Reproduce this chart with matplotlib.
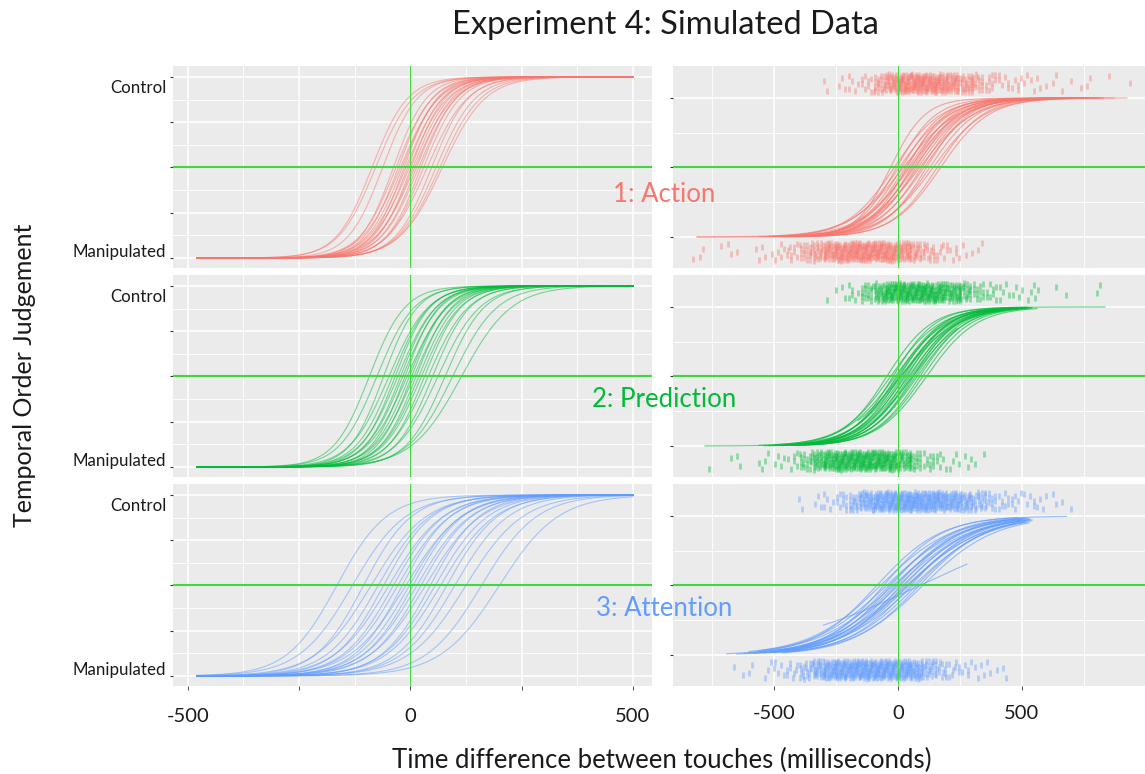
import numpy as np
import matplotlib
matplotlib.use("Agg")
import matplotlib.pyplot as plt

# ---------------- data ----------------
CONDITIONS = ["1: Action", "2: Prediction", "3: Attention"]
COLORS = ["#F8766D", "#00BA38", "#619CFF"]
Y_LABELS = ["Control", "Manipulated"]
LEFT_XTICKS = [-500, -250, 0, 250, 500]
LEFT_XTICKLABELS = ["-500", "", "0", "", "500"]
RIGHT_XTICKS = [-500, 0, 500]
RIGHT_XTICKLABELS = ["-500", "0", "500"]

# left column: simulated psychometric curves (PSE, slope in ms), drawn -480..500
LEFT_XRANGE = [-480, 500]
ACT_L_PSE = [-86, -78, -62, -38, -32, -27, -22, -18, -14, -10, -6, -2, 2, 6, 10, 14, 19, 24, 30, 38, 48, 58, 66, 72]
ACT_L_SD = [40, 42, 39, 37, 41, 38, 43, 40, 37, 42, 39, 43, 38, 41, 44, 40, 42, 39, 41, 45, 41, 44, 46, 48]
PRED_L_PSE = [-92, -75, -60, -48, -40, -34, -28, -22, -17, -12, -7, -2, 3, 8, 13, 19, 25, 32, 40, 50, 62, 78, 95, 115]
PRED_L_SD = [40, 42, 38, 44, 41, 39, 43, 40, 42, 38, 45, 41, 39, 44, 40, 42, 43, 41, 45, 42, 47, 44, 50, 56]
ATT_L_PSE = [-165, -130, -105, -88, -72, -60, -48, -38, -28, -18, -10, -2, 6, 15, 24, 34, 45, 56, 68, 82, 100, 125, 160, 200]
ATT_L_SD = [56, 60, 54, 62, 58, 55, 61, 57, 59, 54, 63, 58, 56, 60, 57, 62, 55, 59, 61, 57, 60, 64, 62, 66]

# right column: fitted curves per participant (PSE, slope, data range)
ACT_R_PSE = [-30, -15, -5, 5, 15, 22, 30, 36, 42, 48, 54, 60, 66, 72, 80, 88, 96, 105, 115, 128, 142, 158, 172]
ACT_R_SD = [70, 95, 80, 100, 85, 110, 90, 80, 95, 105, 85, 92, 100, 88, 96, 108, 90, 98, 86, 95, 104, 92, 97]
ACT_R_LO = [-810, -480, -420, -520, -380, -810, -450, -360, -540, -400, -470, -330, -500, -430, -390, -560, -350, -440, -410, -480, -370, -460, -420]
ACT_R_HI = [923, 640, 700, 580, 760, 820, 620, 690, 810, 560, 740, 660, 870, 600, 720, 780, 650, 700, 830, 620, 760, 690, 800]
PRED_R_PSE = [-45, -30, -20, -12, -5, 0, 6, 12, 18, 24, 30, 36, 42, 48, 55, 62, 70, 78, 88, 100, 115, 10, 60]
PRED_R_SD = [90, 100, 85, 105, 92, 96, 88, 102, 94, 90, 98, 86, 100, 92, 96, 89, 94, 98, 92, 96, 100, 115, 105]
PRED_R_LO = [-778, -500, -430, -560, -380, -470, -520, -410, -450, -360, -490, -400, -440, -540, -420, -380, -460, -400, -430, -350, -410, -160, -300]
PRED_R_HI = [835, 450, 520, 410, 480, 540, 430, 500, 460, 520, 440, 480, 510, 470, 530, 450, 500, 540, 480, 520, 560, 420, 238]
ATT_R_PSE = [-85, -70, -58, -46, -36, -28, -20, -12, -5, 2, 10, 18, 26, 34, 42, 52, 62, 74, 86, 100, 40, 88]
ATT_R_SD = [130, 145, 120, 150, 135, 125, 155, 140, 130, 150, 125, 145, 135, 155, 140, 130, 150, 140, 135, 145, 150, 300]
ATT_R_LO = [-690, -600, -650, -560, -620, -580, -540, -600, -520, -560, -500, -580, -540, -480, -520, -460, -500, -440, -470, -420, -420, -300]
ATT_R_HI = [680, 520, 480, 530, 500, 510, 490, 530, 470, 520, 500, 540, 490, 510, 530, 500, 520, 540, 510, 530, 485, 278]

# jittered trials: counts per 50 ms bin (first bin start given)
BIN_WIDTH = 50
ACT_CTRL_FROM = -300
ACT_CTRL_COUNTS = [2, 3, 5, 8, 20, 34, 45, 46, 44, 40, 34, 24, 16, 10, 6, 5, 4, 3, 2, 2, 1, 2, 1, 0, 1]
ACT_MANIP_FROM = -850
ACT_MANIP_COUNTS = [1, 2, 1, 2, 1, 2, 3, 5, 9, 16, 24, 34, 42, 46, 46, 45, 42, 34, 22, 14, 8, 5, 3, 2]
PRED_CTRL_FROM = -300
PRED_CTRL_COUNTS = [1, 3, 6, 16, 30, 42, 46, 46, 45, 40, 32, 20, 12, 8, 5, 4, 3, 2, 1, 1, 0, 0, 2]
PRED_MANIP_FROM = -800
PRED_MANIP_COUNTS = [1, 0, 1, 2, 1, 3, 4, 6, 14, 28, 38, 44, 46, 46, 45, 42, 30, 16, 10, 6, 4, 3, 2]
ATT_CTRL_FROM = -400
ATT_CTRL_COUNTS = [2, 3, 5, 10, 20, 32, 40, 45, 46, 46, 45, 42, 36, 28, 20, 12, 8, 6, 5, 4, 2, 2]
ATT_MANIP_FROM = -700
ATT_MANIP_COUNTS = [1, 1, 2, 3, 5, 8, 16, 28, 38, 42, 45, 46, 46, 45, 42, 34, 22, 13, 8, 5, 4, 3, 2]

LEFT_CURVES = [(ACT_L_PSE, ACT_L_SD), (PRED_L_PSE, PRED_L_SD), (ATT_L_PSE, ATT_L_SD)]
RIGHT_CURVES = [(ACT_R_PSE, ACT_R_SD, ACT_R_LO, ACT_R_HI),
                (PRED_R_PSE, PRED_R_SD, PRED_R_LO, PRED_R_HI),
                (ATT_R_PSE, ATT_R_SD, ATT_R_LO, ATT_R_HI)]
STRIPS = [((ACT_CTRL_FROM, ACT_CTRL_COUNTS), (ACT_MANIP_FROM, ACT_MANIP_COUNTS)),
          ((PRED_CTRL_FROM, PRED_CTRL_COUNTS), (PRED_MANIP_FROM, PRED_MANIP_COUNTS)),
          ((ATT_CTRL_FROM, ATT_CTRL_COUNTS), (ATT_MANIP_FROM, ATT_MANIP_COUNTS))]

# ---------------- figure ----------------
plt.rcParams['font.family'] = ['Lato', 'DejaVu Sans']
W, H = 1145, 774
fig = plt.figure(figsize=(W / 100, H / 100), dpi=100)

GREEN = "#3FD93F"
BG = "#EBEBEB"
TXT = "#1a1a1a"


def rect(x0, y0, x1, y1):
    return [x0 / W, 1 - y1 / H, (x1 - x0) / W, (y1 - y0) / H]


ROWS = [(66, 268), (275, 477), (484, 686)]
LEFT = (173, 652)
RIGHT = (673, 1145)


def logistic(x, pse, sd):
    return 1.0 / (1.0 + np.exp(-(np.asarray(x) - pse) / sd))


def style(ax, vgrid_major, vgrid_minor, hgrid_major, hgrid_minor):
    ax.set_facecolor(BG)
    for s in ax.spines.values():
        s.set_visible(False)
    for v in vgrid_minor:
        ax.axvline(v, color="white", lw=0.6, zorder=0.5)
    for v in vgrid_major:
        ax.axvline(v, color="white", lw=1.1, zorder=0.5)
    for h in hgrid_minor:
        ax.axhline(h, color="white", lw=0.6, zorder=0.5)
    for h in hgrid_major:
        ax.axhline(h, color="white", lw=1.1, zorder=0.5)


R1 = 0.7548776662466927
R2 = 0.5698402909980532

for r, (y0, y1) in enumerate(ROWS):
    color = COLORS[r]
    bottom = (r == 2)

    # ---- left panel ----
    axl = fig.add_axes(rect(LEFT[0], y0, LEFT[1], y1))
    axl.set_xlim(-533, 543)
    axl.set_ylim(-0.055, 1.06)
    style(axl, [-500, -250, 0, 250, 500], [-375, -125, 125, 375],
          [0, 0.25, 0.5, 0.75, 1], [0.125, 0.375, 0.625, 0.875])
    pses, sds = LEFT_CURVES[r]
    xs = np.linspace(LEFT_XRANGE[0], LEFT_XRANGE[1], 400)
    for p, s in zip(pses, sds):
        axl.plot(xs, logistic(xs, p, s), color=color, lw=0.8, alpha=0.5, zorder=2)
    axl.axvline(0, color=GREEN, lw=0.9, zorder=3)
    axl.axhline(0.5, color=GREEN, lw=1.5, zorder=3)
    axl.set_yticks([0, 0.25, 0.5, 0.75, 1])
    axl.set_yticklabels([])
    axl.tick_params(axis="y", length=2, width=0.8, color="#333333")
    axl.text(-548, 0.94, Y_LABELS[0], ha="right", va="center", fontsize=12.2, color=TXT)
    axl.text(-548, 0.035, Y_LABELS[1], ha="right", va="center", fontsize=12.2, color=TXT)
    if bottom:
        axl.set_xticks(LEFT_XTICKS)
        axl.set_xticklabels(LEFT_XTICKLABELS, fontsize=14.5, color=TXT)
        axl.tick_params(axis="x", length=3, width=0.6, color="#333333", pad=13)
    else:
        axl.set_xticks([])

    # ---- right panel ----
    axr = fig.add_axes(rect(RIGHT[0], y0, RIGHT[1], y1))
    axr.set_xlim(-907, 996)
    axr.set_ylim(-0.223, 1.23)
    style(axr, [-500, 0, 500], [-750, -250, 250, 750],
          [0, 0.5, 1], [0.25, 0.75])
    pses, sds, los, his = RIGHT_CURVES[r]
    for p, s, lo, hi in zip(pses, sds, los, his):
        xs = np.linspace(lo, hi, 300)
        axr.plot(xs, logistic(xs, p, s), color=color, lw=0.85, alpha=0.6, zorder=2)
    # jittered trial strips
    k = 0
    for (start, counts), center in zip(STRIPS[r], [1.105, -0.105]):
        px, py = [], []
        for i, n in enumerate(counts):
            b0 = start + i * BIN_WIDTH
            for _ in range(n):
                k += 1
                px.append(b0 + BIN_WIDTH * ((0.5 + k * R1) % 1.0))
                py.append(center + 0.13 * (((0.5 + k * R2) % 1.0) - 0.5))
        axr.plot(px, py, linestyle="none", marker="|", markersize=5,
                 markeredgewidth=2.0, color=color, alpha=0.4, zorder=2)
    axr.axvline(0, color=GREEN, lw=0.9, zorder=3)
    axr.axhline(0.5, color=GREEN, lw=1.5, zorder=3)
    axr.set_yticks([0, 0.5, 1])
    axr.set_yticklabels([])
    axr.tick_params(axis="y", length=2, width=0.8, color="#333333")
    if bottom:
        axr.set_xticks(RIGHT_XTICKS)
        axr.set_xticklabels(RIGHT_XTICKLABELS, fontsize=14.5, color=TXT)
        axr.tick_params(axis="x", length=3, width=0.6, color="#333333", pad=11)
    else:
        axr.set_xticks([])

# condition labels across the gap
LABEL_Y = [195, 400, 608]
for r in range(3):
    fig.text(664 / W, 1 - LABEL_Y[r] / H, CONDITIONS[r], ha="center", va="center",
             fontsize=18.5, color=COLORS[r])

fig.text(665 / W, 1 - 25 / H, "Experiment 4: Simulated Data", ha="center", va="center",
         fontsize=23.5, color=TXT)
fig.text(662 / W, 1 - 760 / H, "Time difference between touches (milliseconds)",
         ha="center", va="center", fontsize=18.5, color=TXT)
fig.text(25 / W, 1 - 375 / H, "Temporal Order Judgement", ha="center", va="center",
         rotation=90, fontsize=18, color=TXT)

fig.savefig("out.png", dpi=100, facecolor="white")
